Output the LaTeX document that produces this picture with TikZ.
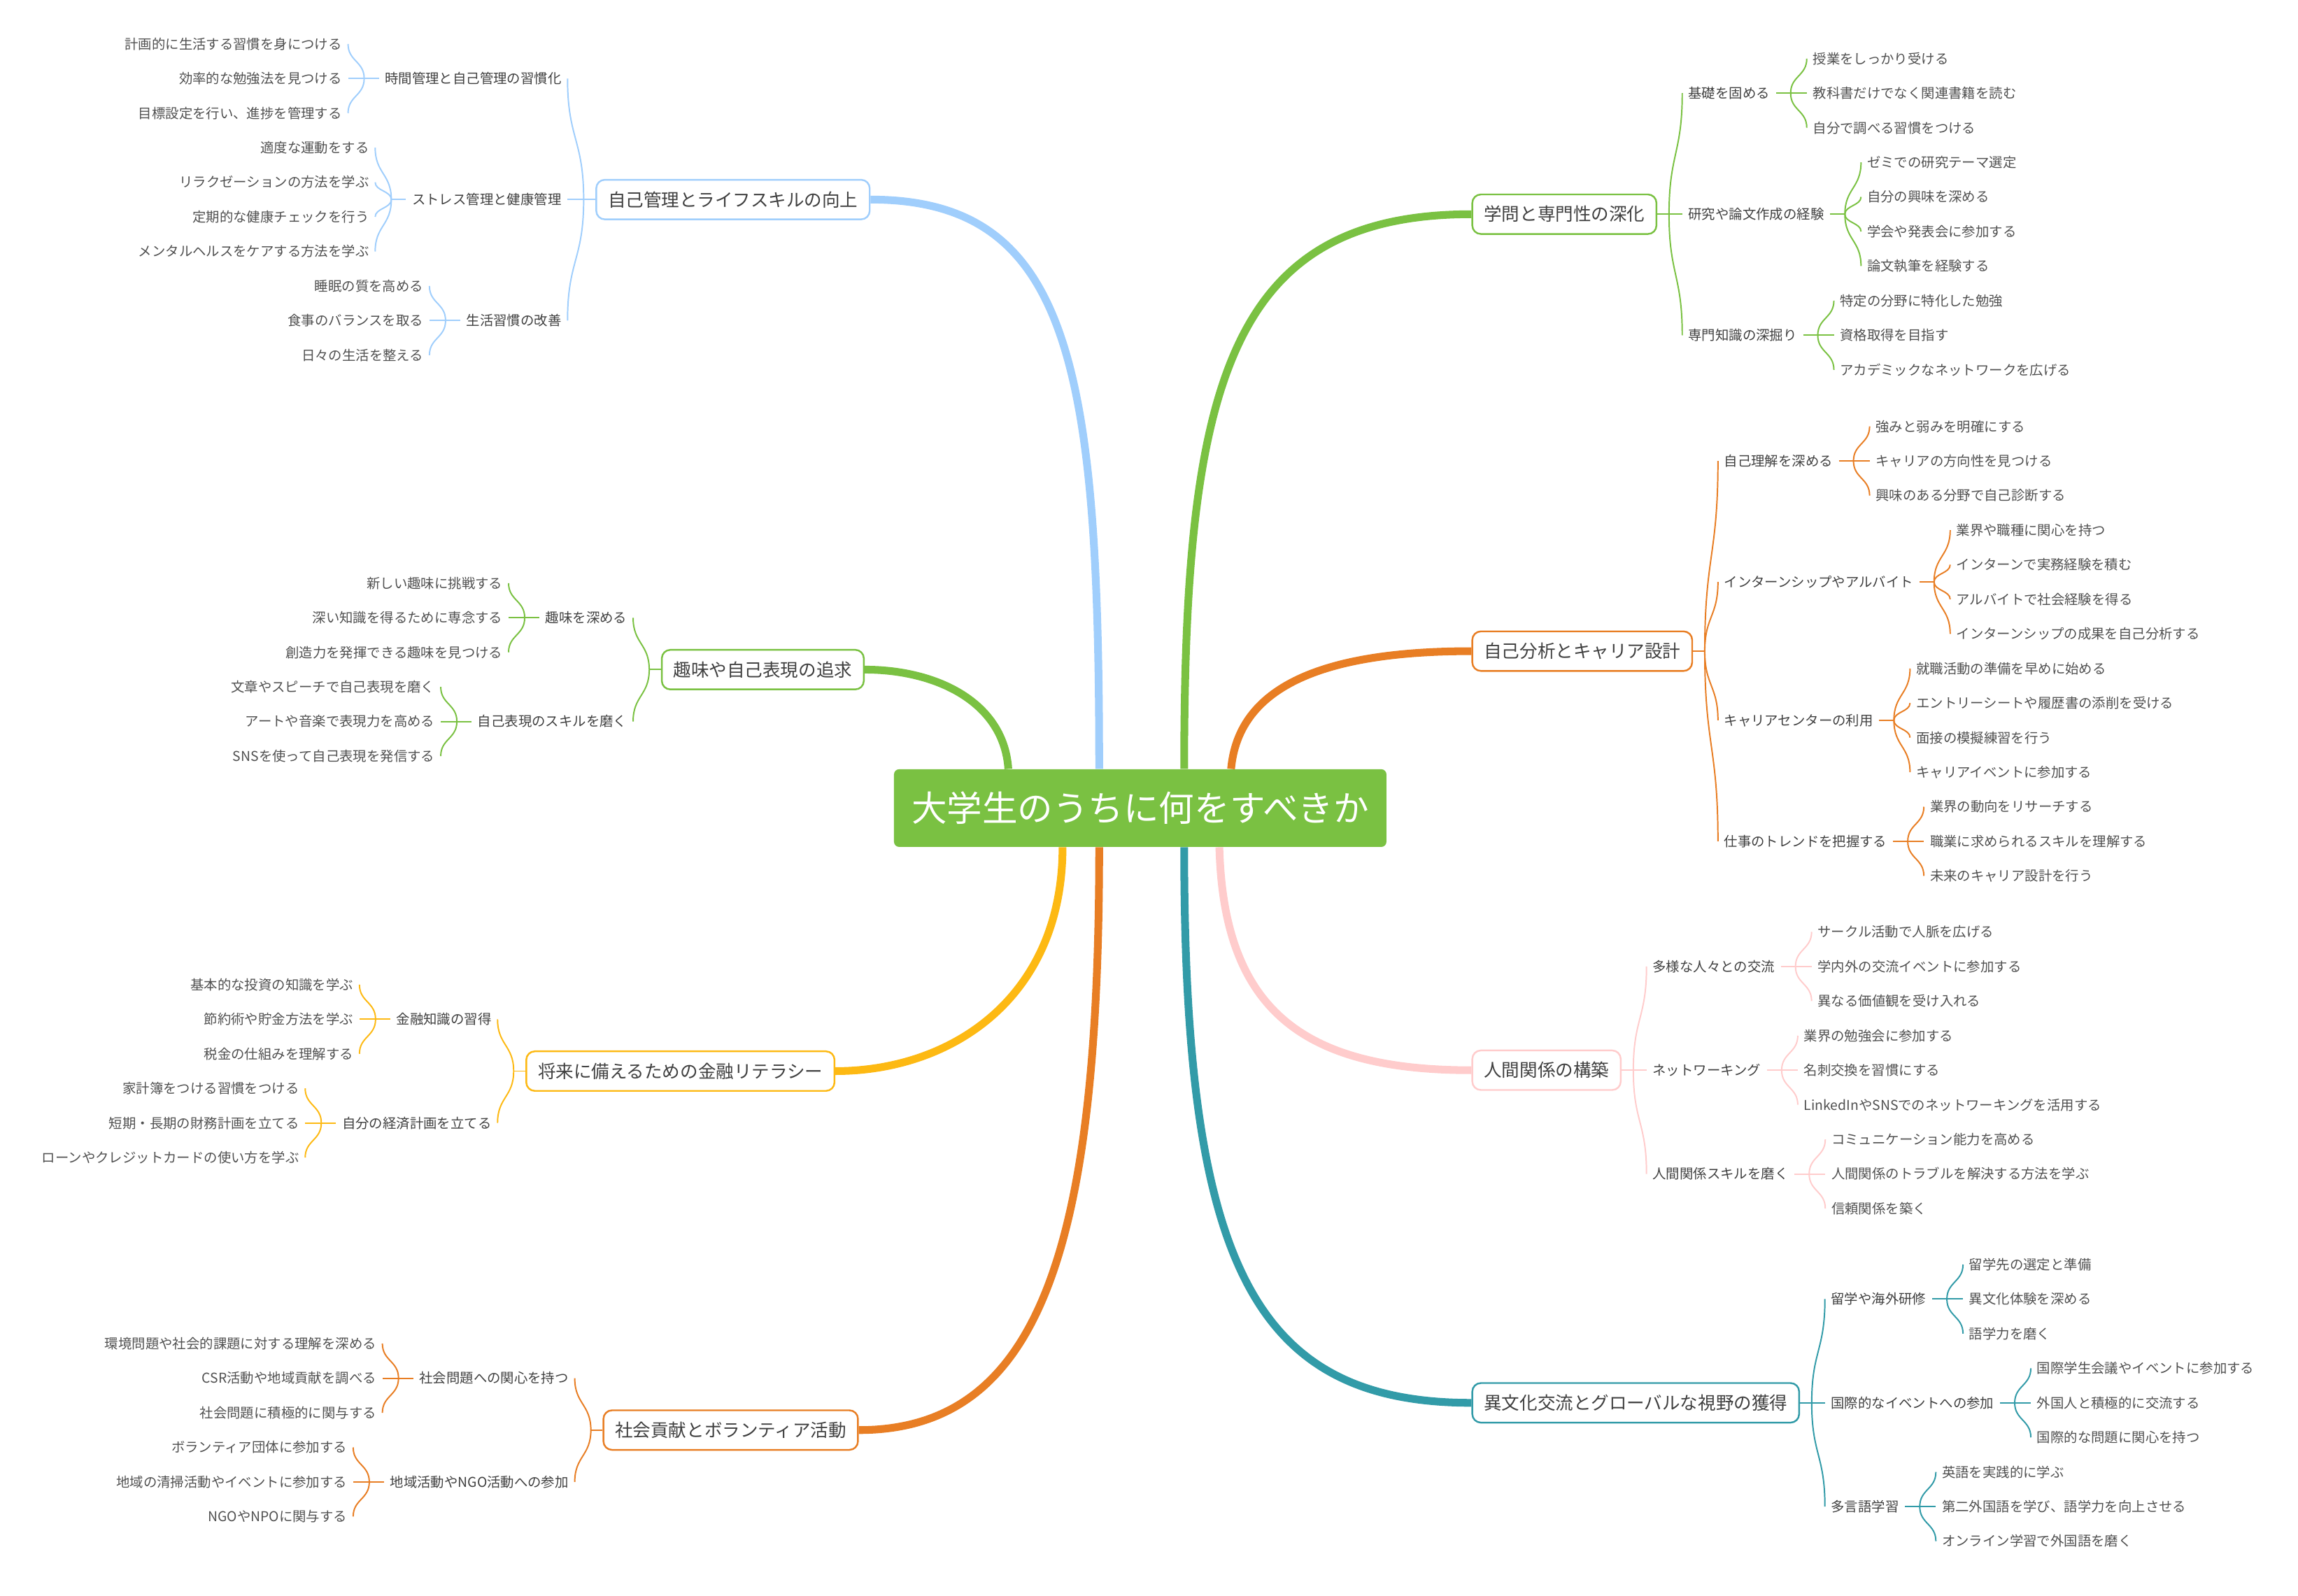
\documentclass[tikz,border=0pt]{standalone}
\usepackage{fontspec}
\setmainfont{Noto Sans CJK JP}
\usetikzlibrary{calc}
\definecolor{mmGreen}{RGB}{122,193,66}
\definecolor{mmBlue}{RGB}{160,206,252}
\definecolor{mmOrange}{RGB}{232,126,36}
\definecolor{mmPink}{RGB}{255,204,204}
\definecolor{mmTeal}{RGB}{50,155,168}
\definecolor{mmYellow}{RGB}{253,185,19}
\definecolor{mmText}{RGB}{64,64,64}
\definecolor{mmLeaf}{RGB}{80,80,80}

\begin{document}
\begin{tikzpicture}[x=0.03cm, y=-0.03cm,
    rootbox/.style={fill=mmGreen, rounded corners=3pt, text=white, font=\fontsize{20.6}{24}\selectfont, minimum width=10.08cm, minimum height=1.59cm, inner sep=0pt, text height=18.1pt, text depth=2.5pt},
    topic/.style={draw=#1, line width=1pt, fill=white, rounded corners=5pt, text=mmText, font=\fontsize{10.4}{12}\selectfont, minimum height=0.81cm, inner xsep=0.24cm, inner ysep=0pt, text height=9.15pt, text depth=1.25pt},
    subtopic/.style={text=mmText, font=\fontsize{7.9}{9}\selectfont, inner xsep=3.4pt, inner ysep=1pt, text height=6.95pt, text depth=0.95pt},
    leaf/.style={subtopic, text=mmLeaf},
    trunk/.style={draw=#1, line width=4.5pt},
    twig/.style={draw=#1, line width=0.8pt}
]
    \useasboundingbox (0,0) rectangle (1568,1089);

    \node[rootbox] (root) at (778,551.5) {大学生のうちに何をすべきか};

    % main topics
    \node[topic=mmBlue, anchor=east] (mSelf) at (594,136.2) {自己管理とライフスキルの向上};
    \node[topic=mmGreen, anchor=east] (mHobby) at (590,457) {趣味や自己表現の追求};
    \node[topic=mmYellow, anchor=east] (mMoney) at (570,731) {将来に備えるための金融リテラシー};
    \node[topic=mmOrange, anchor=east] (mSocial) at (586,976) {社会貢献とボランティア活動};
    \node[topic=mmGreen, anchor=west] (mStudy) at (1004,146.2) {学問と専門性の深化};
    \node[topic=mmOrange, anchor=west] (mCareer) at (1004,444.4) {自己分析とキャリア設計};
    \node[topic=mmPink, anchor=west] (mHuman) at (1004,730.4) {人間関係の構築};
    \node[topic=mmTeal, anchor=west] (mGlobal) at (1004,957.4) {異文化交流とグローバルな視野の獲得};

    % trunks
    \draw[trunk=mmBlue] ($(root.north)+(-28,0)$) .. controls +(0,-275) and +(136,0) .. (mSelf.east);
    \draw[trunk=mmGreen] ($(root.north)+(-90,0)$) .. controls +(-3,-45) and +(50,0) .. (mHobby.east);
    \draw[trunk=mmYellow] ($(root.south)+(-53,0)$) .. controls +(0,102) and +(80,0) .. (mMoney.east);
    \draw[trunk=mmOrange] ($(root.south)+(-28,0)$) .. controls +(0,272) and +(124,0) .. (mSocial.east);
    \draw[trunk=mmGreen] ($(root.north)+(30,0)$) .. controls +(0,-265) and +(-164,0) .. (mStudy.west);
    \draw[trunk=mmOrange] ($(root.north)+(62,0)$) .. controls +(5,-55) and +(-104,0) .. (mCareer.west);
    \draw[trunk=mmPink] ($(root.south)+(54,0)$) .. controls +(3,112) and +(-114,0) .. (mHuman.west);
    \draw[trunk=mmTeal] ($(root.south)+(30,0)$) .. controls +(0,282) and +(-150,0) .. (mGlobal.west);

    % 自己管理とライフスキルの向上
    \node[subtopic, anchor=east] (sTime) at ($(mSelf.west)+(-19,-82.6)$) {時間管理と自己管理の習慣化};
    \node[subtopic, anchor=east] (sStress) at ($(mSelf.west)+(-19,0)$) {ストレス管理と健康管理};
    \node[subtopic, anchor=east] (sLife) at ($(mSelf.west)+(-19,82.6)$) {生活習慣の改善};
    \draw[twig=mmBlue] (mSelf.west) -- ++(-8,0) coordinate (mSelf-j);
    \draw[twig=mmBlue] (mSelf-j) .. controls +(0,-41.3) and +(0,41.3) .. (sTime.east);
    \draw[twig=mmBlue] (mSelf-j) -- (sStress.east);
    \draw[twig=mmBlue] (mSelf-j) .. controls +(0,41.3) and +(0,-41.3) .. (sLife.east);
    \foreach \txt [count=\i] in {計画的に生活する習慣を身につける, 効率的な勉強法を見つける, 目標設定を行い、進捗を管理する} {
        \pgfmathsetmacro\dy{(\i-2)*23.6}
        \node[leaf, anchor=east] (sTime-\i) at ($(sTime.west)+(-21,\dy)$) {\txt};
        \draw[twig=mmBlue] ($(sTime.west)+(-10,0)$) .. controls +(0,0.5*\dy) and +(0,-0.5*\dy) .. (sTime-\i.east);
    }
    \draw[twig=mmBlue] (sTime.west) -- ++(-10,0);
    \foreach \txt [count=\i] in {適度な運動をする, リラクゼーションの方法を学ぶ, 定期的な健康チェックを行う, メンタルヘルスをケアする方法を学ぶ} {
        \pgfmathsetmacro\dy{(\i-2.5)*23.6}
        \node[leaf, anchor=east] (sStress-\i) at ($(sStress.west)+(-21,\dy)$) {\txt};
        \draw[twig=mmBlue] ($(sStress.west)+(-10,0)$) .. controls +(0,0.5*\dy) and +(0,-0.5*\dy) .. (sStress-\i.east);
    }
    \draw[twig=mmBlue] (sStress.west) -- ++(-10,0);
    \foreach \txt [count=\i] in {睡眠の質を高める, 食事のバランスを取る, 日々の生活を整える} {
        \pgfmathsetmacro\dy{(\i-2)*23.6}
        \node[leaf, anchor=east] (sLife-\i) at ($(sLife.west)+(-21,\dy)$) {\txt};
        \draw[twig=mmBlue] ($(sLife.west)+(-10,0)$) .. controls +(0,0.5*\dy) and +(0,-0.5*\dy) .. (sLife-\i.east);
    }
    \draw[twig=mmBlue] (sLife.west) -- ++(-10,0);

    % 趣味や自己表現の追求
    \node[subtopic, anchor=east] (sHobby) at ($(mHobby.west)+(-19,-35.4)$) {趣味を深める};
    \node[subtopic, anchor=east] (sExpress) at ($(mHobby.west)+(-19,35.4)$) {自己表現のスキルを磨く};
    \draw[twig=mmGreen] (mHobby.west) -- ++(-8,0) coordinate (mHobby-j);
    \draw[twig=mmGreen] (mHobby-j) .. controls +(0,-17.7) and +(0,17.7) .. (sHobby.east);
    \draw[twig=mmGreen] (mHobby-j) .. controls +(0,17.7) and +(0,-17.7) .. (sExpress.east);
    \foreach \txt [count=\i] in {新しい趣味に挑戦する, 深い知識を得るために専念する, 創造力を発揮できる趣味を見つける} {
        \pgfmathsetmacro\dy{(\i-2)*23.6}
        \node[leaf, anchor=east] (sHobby-\i) at ($(sHobby.west)+(-21,\dy)$) {\txt};
        \draw[twig=mmGreen] ($(sHobby.west)+(-10,0)$) .. controls +(0,0.5*\dy) and +(0,-0.5*\dy) .. (sHobby-\i.east);
    }
    \draw[twig=mmGreen] (sHobby.west) -- ++(-10,0);
    \foreach \txt [count=\i] in {文章やスピーチで自己表現を磨く, アートや音楽で表現力を高める, SNSを使って自己表現を発信する} {
        \pgfmathsetmacro\dy{(\i-2)*23.6}
        \node[leaf, anchor=east] (sExpress-\i) at ($(sExpress.west)+(-21,\dy)$) {\txt};
        \draw[twig=mmGreen] ($(sExpress.west)+(-10,0)$) .. controls +(0,0.5*\dy) and +(0,-0.5*\dy) .. (sExpress-\i.east);
    }
    \draw[twig=mmGreen] (sExpress.west) -- ++(-10,0);

    % 将来に備えるための金融リテラシー
    \node[subtopic, anchor=east] (sFin) at ($(mMoney.west)+(-19,-35.4)$) {金融知識の習得};
    \node[subtopic, anchor=east] (sPlan) at ($(mMoney.west)+(-19,35.4)$) {自分の経済計画を立てる};
    \draw[twig=mmYellow] (mMoney.west) -- ++(-8,0) coordinate (mMoney-j);
    \draw[twig=mmYellow] (mMoney-j) .. controls +(0,-17.7) and +(0,17.7) .. (sFin.east);
    \draw[twig=mmYellow] (mMoney-j) .. controls +(0,17.7) and +(0,-17.7) .. (sPlan.east);
    \foreach \txt [count=\i] in {基本的な投資の知識を学ぶ, 節約術や貯金方法を学ぶ, 税金の仕組みを理解する} {
        \pgfmathsetmacro\dy{(\i-2)*23.6}
        \node[leaf, anchor=east] (sFin-\i) at ($(sFin.west)+(-21,\dy)$) {\txt};
        \draw[twig=mmYellow] ($(sFin.west)+(-10,0)$) .. controls +(0,0.5*\dy) and +(0,-0.5*\dy) .. (sFin-\i.east);
    }
    \draw[twig=mmYellow] (sFin.west) -- ++(-10,0);
    \foreach \txt [count=\i] in {家計簿をつける習慣をつける, 短期・長期の財務計画を立てる, ローンやクレジットカードの使い方を学ぶ} {
        \pgfmathsetmacro\dy{(\i-2)*23.6}
        \node[leaf, anchor=east] (sPlan-\i) at ($(sPlan.west)+(-21,\dy)$) {\txt};
        \draw[twig=mmYellow] ($(sPlan.west)+(-10,0)$) .. controls +(0,0.5*\dy) and +(0,-0.5*\dy) .. (sPlan-\i.east);
    }
    \draw[twig=mmYellow] (sPlan.west) -- ++(-10,0);

    % 社会貢献とボランティア活動
    \node[subtopic, anchor=east] (sIssue) at ($(mSocial.west)+(-19,-35.4)$) {社会問題への関心を持つ};
    \node[subtopic, anchor=east] (sLocal) at ($(mSocial.west)+(-19,35.4)$) {地域活動やNGO活動への参加};
    \draw[twig=mmOrange] (mSocial.west) -- ++(-8,0) coordinate (mSocial-j);
    \draw[twig=mmOrange] (mSocial-j) .. controls +(0,-17.7) and +(0,17.7) .. (sIssue.east);
    \draw[twig=mmOrange] (mSocial-j) .. controls +(0,17.7) and +(0,-17.7) .. (sLocal.east);
    \foreach \txt [count=\i] in {環境問題や社会的課題に対する理解を深める, CSR活動や地域貢献を調べる, 社会問題に積極的に関与する} {
        \pgfmathsetmacro\dy{(\i-2)*23.6}
        \node[leaf, anchor=east] (sIssue-\i) at ($(sIssue.west)+(-21,\dy)$) {\txt};
        \draw[twig=mmOrange] ($(sIssue.west)+(-10,0)$) .. controls +(0,0.5*\dy) and +(0,-0.5*\dy) .. (sIssue-\i.east);
    }
    \draw[twig=mmOrange] (sIssue.west) -- ++(-10,0);
    \foreach \txt [count=\i] in {ボランティア団体に参加する, 地域の清掃活動やイベントに参加する, NGOやNPOに関与する} {
        \pgfmathsetmacro\dy{(\i-2)*23.6}
        \node[leaf, anchor=east] (sLocal-\i) at ($(sLocal.west)+(-21,\dy)$) {\txt};
        \draw[twig=mmOrange] ($(sLocal.west)+(-10,0)$) .. controls +(0,0.5*\dy) and +(0,-0.5*\dy) .. (sLocal-\i.east);
    }
    \draw[twig=mmOrange] (sLocal.west) -- ++(-10,0);

    % 学問と専門性の深化
    \node[subtopic, anchor=west] (sBase) at ($(mStudy.east)+(17,-82.6)$) {基礎を固める};
    \node[subtopic, anchor=west] (sResearch) at ($(mStudy.east)+(17,0)$) {研究や論文作成の経験};
    \node[subtopic, anchor=west] (sExpert) at ($(mStudy.east)+(17,82.6)$) {専門知識の深掘り};
    \draw[twig=mmGreen] (mStudy.east) -- ++(8,0) coordinate (mStudy-j);
    \draw[twig=mmGreen] (mStudy-j) .. controls +(0,-41.3) and +(0,41.3) .. (sBase.west);
    \draw[twig=mmGreen] (mStudy-j) -- (sResearch.west);
    \draw[twig=mmGreen] (mStudy-j) .. controls +(0,41.3) and +(0,-41.3) .. (sExpert.west);
    \foreach \txt [count=\i] in {授業をしっかり受ける, 教科書だけでなく関連書籍を読む, 自分で調べる習慣をつける} {
        \pgfmathsetmacro\dy{(\i-2)*23.6}
        \node[leaf, anchor=west] (sBase-\i) at ($(sBase.east)+(21,\dy)$) {\txt};
        \draw[twig=mmGreen] ($(sBase.east)+(10,0)$) .. controls +(0,0.5*\dy) and +(0,-0.5*\dy) .. (sBase-\i.west);
    }
    \draw[twig=mmGreen] (sBase.east) -- ++(10,0);
    \foreach \txt [count=\i] in {ゼミでの研究テーマ選定, 自分の興味を深める, 学会や発表会に参加する, 論文執筆を経験する} {
        \pgfmathsetmacro\dy{(\i-2.5)*23.6}
        \node[leaf, anchor=west] (sResearch-\i) at ($(sResearch.east)+(21,\dy)$) {\txt};
        \draw[twig=mmGreen] ($(sResearch.east)+(10,0)$) .. controls +(0,0.5*\dy) and +(0,-0.5*\dy) .. (sResearch-\i.west);
    }
    \draw[twig=mmGreen] (sResearch.east) -- ++(10,0);
    \foreach \txt [count=\i] in {特定の分野に特化した勉強, 資格取得を目指す, アカデミックなネットワークを広げる} {
        \pgfmathsetmacro\dy{(\i-2)*23.6}
        \node[leaf, anchor=west] (sExpert-\i) at ($(sExpert.east)+(21,\dy)$) {\txt};
        \draw[twig=mmGreen] ($(sExpert.east)+(10,0)$) .. controls +(0,0.5*\dy) and +(0,-0.5*\dy) .. (sExpert-\i.west);
    }
    \draw[twig=mmGreen] (sExpert.east) -- ++(10,0);

    % 自己分析とキャリア設計
    \node[subtopic, anchor=west] (sKnow) at ($(mCareer.east)+(17,-129.8)$) {自己理解を深める};
    \node[subtopic, anchor=west] (sIntern) at ($(mCareer.east)+(17,-47.2)$) {インターンシップやアルバイト};
    \node[subtopic, anchor=west] (sCenter) at ($(mCareer.east)+(17,47.2)$) {キャリアセンターの利用};
    \node[subtopic, anchor=west] (sTrend) at ($(mCareer.east)+(17,129.8)$) {仕事のトレンドを把握する};
    \draw[twig=mmOrange] (mCareer.east) -- ++(8,0) coordinate (mCareer-j);
    \draw[twig=mmOrange] (mCareer-j) .. controls +(0,-64.9) and +(0,64.9) .. (sKnow.west);
    \draw[twig=mmOrange] (mCareer-j) .. controls +(0,-23.6) and +(0,23.6) .. (sIntern.west);
    \draw[twig=mmOrange] (mCareer-j) .. controls +(0,23.6) and +(0,-23.6) .. (sCenter.west);
    \draw[twig=mmOrange] (mCareer-j) .. controls +(0,64.9) and +(0,-64.9) .. (sTrend.west);
    \foreach \txt [count=\i] in {強みと弱みを明確にする, キャリアの方向性を見つける, 興味のある分野で自己診断する} {
        \pgfmathsetmacro\dy{(\i-2)*23.6}
        \node[leaf, anchor=west] (sKnow-\i) at ($(sKnow.east)+(21,\dy)$) {\txt};
        \draw[twig=mmOrange] ($(sKnow.east)+(10,0)$) .. controls +(0,0.5*\dy) and +(0,-0.5*\dy) .. (sKnow-\i.west);
    }
    \draw[twig=mmOrange] (sKnow.east) -- ++(10,0);
    \foreach \txt [count=\i] in {業界や職種に関心を持つ, インターンで実務経験を積む, アルバイトで社会経験を得る, インターンシップの成果を自己分析する} {
        \pgfmathsetmacro\dy{(\i-2.5)*23.6}
        \node[leaf, anchor=west] (sIntern-\i) at ($(sIntern.east)+(21,\dy)$) {\txt};
        \draw[twig=mmOrange] ($(sIntern.east)+(10,0)$) .. controls +(0,0.5*\dy) and +(0,-0.5*\dy) .. (sIntern-\i.west);
    }
    \draw[twig=mmOrange] (sIntern.east) -- ++(10,0);
    \foreach \txt [count=\i] in {就職活動の準備を早めに始める, エントリーシートや履歴書の添削を受ける, 面接の模擬練習を行う, キャリアイベントに参加する} {
        \pgfmathsetmacro\dy{(\i-2.5)*23.6}
        \node[leaf, anchor=west] (sCenter-\i) at ($(sCenter.east)+(21,\dy)$) {\txt};
        \draw[twig=mmOrange] ($(sCenter.east)+(10,0)$) .. controls +(0,0.5*\dy) and +(0,-0.5*\dy) .. (sCenter-\i.west);
    }
    \draw[twig=mmOrange] (sCenter.east) -- ++(10,0);
    \foreach \txt [count=\i] in {業界の動向をリサーチする, 職業に求められるスキルを理解する, 未来のキャリア設計を行う} {
        \pgfmathsetmacro\dy{(\i-2)*23.6}
        \node[leaf, anchor=west] (sTrend-\i) at ($(sTrend.east)+(21,\dy)$) {\txt};
        \draw[twig=mmOrange] ($(sTrend.east)+(10,0)$) .. controls +(0,0.5*\dy) and +(0,-0.5*\dy) .. (sTrend-\i.west);
    }
    \draw[twig=mmOrange] (sTrend.east) -- ++(10,0);

    % 人間関係の構築
    \node[subtopic, anchor=west] (sDiverse) at ($(mHuman.east)+(17,-70.8)$) {多様な人々との交流};
    \node[subtopic, anchor=west] (sNet) at ($(mHuman.east)+(17,0)$) {ネットワーキング};
    \node[subtopic, anchor=west] (sSkill) at ($(mHuman.east)+(17,70.8)$) {人間関係スキルを磨く};
    \draw[twig=mmPink] (mHuman.east) -- ++(8,0) coordinate (mHuman-j);
    \draw[twig=mmPink] (mHuman-j) .. controls +(0,-35.4) and +(0,35.4) .. (sDiverse.west);
    \draw[twig=mmPink] (mHuman-j) -- (sNet.west);
    \draw[twig=mmPink] (mHuman-j) .. controls +(0,35.4) and +(0,-35.4) .. (sSkill.west);
    \foreach \txt [count=\i] in {サークル活動で人脈を広げる, 学内外の交流イベントに参加する, 異なる価値観を受け入れる} {
        \pgfmathsetmacro\dy{(\i-2)*23.6}
        \node[leaf, anchor=west] (sDiverse-\i) at ($(sDiverse.east)+(21,\dy)$) {\txt};
        \draw[twig=mmPink] ($(sDiverse.east)+(10,0)$) .. controls +(0,0.5*\dy) and +(0,-0.5*\dy) .. (sDiverse-\i.west);
    }
    \draw[twig=mmPink] (sDiverse.east) -- ++(10,0);
    \foreach \txt [count=\i] in {業界の勉強会に参加する, 名刺交換を習慣にする, LinkedInやSNSでのネットワーキングを活用する} {
        \pgfmathsetmacro\dy{(\i-2)*23.6}
        \node[leaf, anchor=west] (sNet-\i) at ($(sNet.east)+(21,\dy)$) {\txt};
        \draw[twig=mmPink] ($(sNet.east)+(10,0)$) .. controls +(0,0.5*\dy) and +(0,-0.5*\dy) .. (sNet-\i.west);
    }
    \draw[twig=mmPink] (sNet.east) -- ++(10,0);
    \foreach \txt [count=\i] in {コミュニケーション能力を高める, 人間関係のトラブルを解決する方法を学ぶ, 信頼関係を築く} {
        \pgfmathsetmacro\dy{(\i-2)*23.6}
        \node[leaf, anchor=west] (sSkill-\i) at ($(sSkill.east)+(21,\dy)$) {\txt};
        \draw[twig=mmPink] ($(sSkill.east)+(10,0)$) .. controls +(0,0.5*\dy) and +(0,-0.5*\dy) .. (sSkill-\i.west);
    }
    \draw[twig=mmPink] (sSkill.east) -- ++(10,0);

    % 異文化交流とグローバルな視野の獲得
    \node[subtopic, anchor=west] (sAbroad) at ($(mGlobal.east)+(17,-70.8)$) {留学や海外研修};
    \node[subtopic, anchor=west] (sEvent) at ($(mGlobal.east)+(17,0)$) {国際的なイベントへの参加};
    \node[subtopic, anchor=west] (sLang) at ($(mGlobal.east)+(17,70.8)$) {多言語学習};
    \draw[twig=mmTeal] (mGlobal.east) -- ++(8,0) coordinate (mGlobal-j);
    \draw[twig=mmTeal] (mGlobal-j) .. controls +(0,-35.4) and +(0,35.4) .. (sAbroad.west);
    \draw[twig=mmTeal] (mGlobal-j) -- (sEvent.west);
    \draw[twig=mmTeal] (mGlobal-j) .. controls +(0,35.4) and +(0,-35.4) .. (sLang.west);
    \foreach \txt [count=\i] in {留学先の選定と準備, 異文化体験を深める, 語学力を磨く} {
        \pgfmathsetmacro\dy{(\i-2)*23.6}
        \node[leaf, anchor=west] (sAbroad-\i) at ($(sAbroad.east)+(21,\dy)$) {\txt};
        \draw[twig=mmTeal] ($(sAbroad.east)+(10,0)$) .. controls +(0,0.5*\dy) and +(0,-0.5*\dy) .. (sAbroad-\i.west);
    }
    \draw[twig=mmTeal] (sAbroad.east) -- ++(10,0);
    \foreach \txt [count=\i] in {国際学生会議やイベントに参加する, 外国人と積極的に交流する, 国際的な問題に関心を持つ} {
        \pgfmathsetmacro\dy{(\i-2)*23.6}
        \node[leaf, anchor=west] (sEvent-\i) at ($(sEvent.east)+(21,\dy)$) {\txt};
        \draw[twig=mmTeal] ($(sEvent.east)+(10,0)$) .. controls +(0,0.5*\dy) and +(0,-0.5*\dy) .. (sEvent-\i.west);
    }
    \draw[twig=mmTeal] (sEvent.east) -- ++(10,0);
    \foreach \txt [count=\i] in {英語を実践的に学ぶ, 第二外国語を学び、語学力を向上させる, オンライン学習で外国語を磨く} {
        \pgfmathsetmacro\dy{(\i-2)*23.6}
        \node[leaf, anchor=west] (sLang-\i) at ($(sLang.east)+(21,\dy)$) {\txt};
        \draw[twig=mmTeal] ($(sLang.east)+(10,0)$) .. controls +(0,0.5*\dy) and +(0,-0.5*\dy) .. (sLang-\i.west);
    }
    \draw[twig=mmTeal] (sLang.east) -- ++(10,0);
\end{tikzpicture}
\end{document}
